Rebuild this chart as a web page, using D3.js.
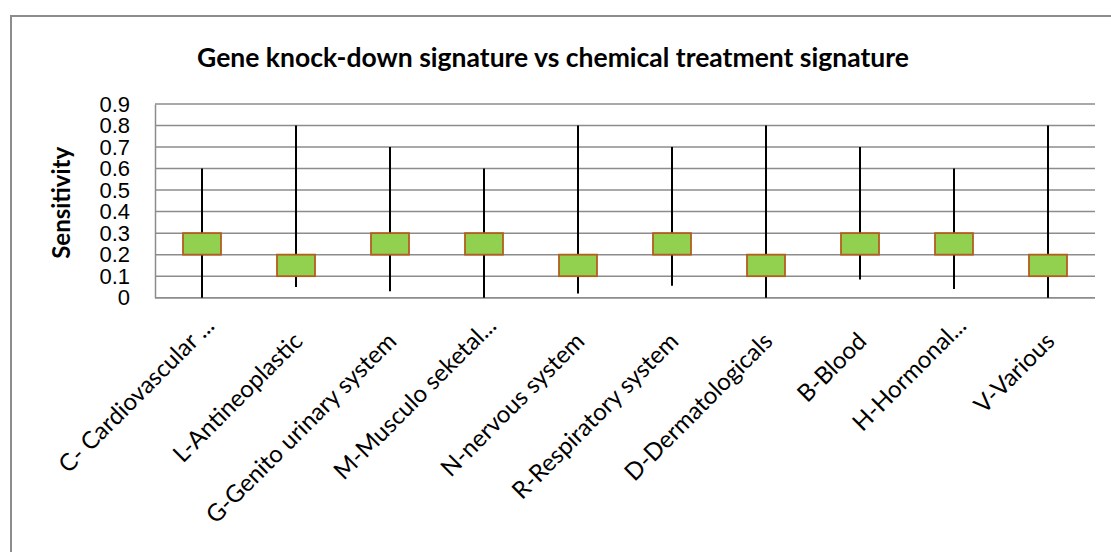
<!DOCTYPE html>
<html>
<head>
<meta charset="utf-8">
<script src="https://cdn.jsdelivr.net/npm/d3@7"></script>
<style>
  html, body { margin: 0; padding: 0; background: #fff; }
  svg { display: block; }
</style>
</head>
<body>
<svg id="chart" width="1111" height="552"></svg>
<script>
// Drug classes (ATC groups)
const categories = [
  "C- Cardiovascular ...", "L-Antineoplastic", "G-Genito urinary system",
  "M-Musculo seketal...", "N-nervous system", "R-Respiratory system",
  "D-Dermatologicals", "B-Blood", "H-Hormonal...", "V-Various"
];
// Whisker ends and box edges (sensitivity)
const lows    = [0.00, 0.05, 0.03, 0.00, 0.02, 0.055, 0.00, 0.085, 0.04, 0.00];
const highs   = [0.60, 0.80, 0.70, 0.60, 0.80, 0.70, 0.80, 0.70, 0.60, 0.80];
const boxLows = [0.20, 0.10, 0.20, 0.20, 0.10, 0.20, 0.10, 0.20, 0.20, 0.10];
const boxHighs= [0.30, 0.20, 0.30, 0.30, 0.20, 0.30, 0.20, 0.30, 0.30, 0.20];
const yTicks  = [0, 0.1, 0.2, 0.3, 0.4, 0.5, 0.6, 0.7, 0.8, 0.9];

const data = categories.map((c, i) => ({
  cat: c, low: lows[i], high: highs[i], q1: boxLows[i], q3: boxHighs[i]
}));

const svg = d3.select("#chart");
const plot = { left: 155, right: 1095, top: 104, bottom: 297.7 };

// Outer chart frame (top and left edges visible)
svg.append("path")
  .attr("d", "M11,1111 V16 H1111")
  .attr("fill", "none")
  .attr("stroke", "#8c8c8c")
  .attr("stroke-width", 2);

// Title
svg.append("text")
  .attr("x", 553).attr("y", 67)
  .attr("text-anchor", "middle")
  .attr("font-family", "Lato, 'Open Sans', sans-serif")
  .attr("font-weight", "bold")
  .attr("font-size", 26.5)
  .attr("fill", "#000")
  .text("Gene knock-down signature vs chemical treatment signature");

const x = d3.scaleBand().domain(categories).range([plot.left, plot.right]).padding(0);
const y = d3.scaleLinear().domain([0, 0.9]).range([plot.bottom, plot.top]);

// Horizontal gridlines
svg.append("g")
  .selectAll("line")
  .data(yTicks)
  .join("line")
  .attr("x1", plot.left).attr("x2", plot.right)
  .attr("y1", d => y(d)).attr("y2", d => y(d))
  .attr("stroke", "#8c8c8c")
  .attr("stroke-width", 1.5);

// Y axis
const yAxis = svg.append("g")
  .attr("transform", `translate(${plot.left},0)`)
  .call(d3.axisLeft(y).tickValues(yTicks).tickSize(0).tickPadding(25)
    .tickFormat(d => d === 0 ? "0" : d3.format(".1f")(d)));
yAxis.select(".domain").attr("stroke", "#8c8c8c").attr("stroke-width", 1.5);
yAxis.selectAll("text")
  .attr("font-family", "'Liberation Sans', Arial, sans-serif")
  .attr("font-size", 22)
  .attr("fill", "#000");

// Y axis title
svg.append("text")
  .attr("transform", `translate(70,${(plot.top + plot.bottom) / 2 + 2}) rotate(-90)`)
  .attr("text-anchor", "middle")
  .attr("font-family", "Lato, 'Open Sans', sans-serif")
  .attr("font-weight", "bold")
  .attr("font-size", 24)
  .attr("fill", "#000")
  .text("Sensitivity");

// Bottom axis line
svg.append("line")
  .attr("x1", plot.left).attr("x2", plot.right)
  .attr("y1", y(0)).attr("y2", y(0))
  .attr("stroke", "#8c8c8c").attr("stroke-width", 1.5);

// Category labels, rotated; truncated labels sit a little further out
svg.append("g")
  .selectAll("text")
  .data(categories)
  .join("text")
  .attr("transform", d => `translate(${x(d) + x.bandwidth() / 2 + 8},${plot.bottom + 45}) rotate(-45)`)
  .attr("dx", d => d.endsWith("...") ? 15 : 0)
  .attr("dy", d => d.endsWith("...") ? -7 : 0)
  .attr("text-anchor", "end")
  .attr("font-family", "Lato, 'Open Sans', sans-serif")
  .attr("font-size", 24)
  .attr("fill", "#000")
  .text(d => d);

const boxW = 38;
const g = svg.append("g");

// Whiskers
g.selectAll("line.whisker")
  .data(data)
  .join("line")
  .attr("class", "whisker")
  .attr("x1", d => x(d.cat) + x.bandwidth() / 2)
  .attr("x2", d => x(d.cat) + x.bandwidth() / 2)
  .attr("y1", d => y(d.low))
  .attr("y2", d => y(d.high))
  .attr("stroke", "#000")
  .attr("stroke-width", 2);

// Boxes
g.selectAll("rect.box")
  .data(data)
  .join("rect")
  .attr("class", "box")
  .attr("x", d => x(d.cat) + x.bandwidth() / 2 - boxW / 2)
  .attr("width", boxW)
  .attr("y", d => y(d.q3))
  .attr("height", d => y(d.q1) - y(d.q3))
  .attr("fill", "#92d050")
  .attr("stroke", "#b35e1e")
  .attr("stroke-width", 1.8);
</script>
</body>
</html>
